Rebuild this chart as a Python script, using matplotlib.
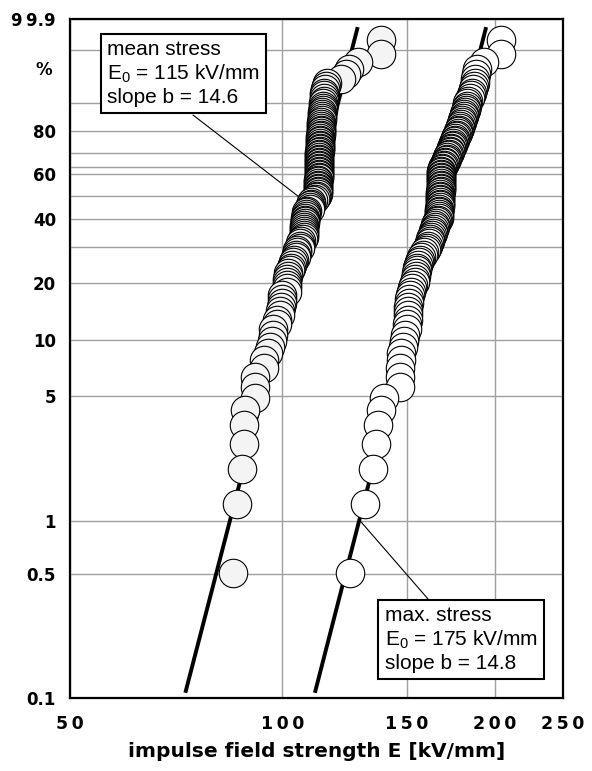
import numpy as np
import matplotlib
matplotlib.use("Agg")
import matplotlib.pyplot as plt

plt.rcParams['font.family'] = ['DejaVu Sans']
plt.rcParams['mathtext.fontset'] = 'custom'
plt.rcParams['mathtext.rm'] = 'Liberation Sans'

# breakdown strengths, sorted (kV/mm)
mean_E = [
    85.0, 86.2, 87.8, 88.3, 88.3, 88.4, 91.5, 91.5, 91.6, 94.1,
    94.2, 95.4, 96.1, 96.6, 97.0, 97.1, 98.3, 98.4, 99.2, 99.3,
    99.6, 99.8, 99.9, 100.0, 101.5, 101.6, 101.6, 101.7, 101.7, 101.8,
    102.0, 102.6, 102.8, 103.2, 103.6, 103.8, 104.6, 104.7, 104.8, 105.0,
    106.0, 106.0, 106.1, 106.2, 107.0, 107.2, 107.3, 107.3, 107.4, 107.4,
    107.5, 107.5, 107.6, 107.6, 107.7, 107.8, 107.9, 108.0, 108.2, 108.4,
    109.3, 109.5, 109.6, 109.7, 109.8, 110.5, 111.3, 111.5, 112.0, 112.3,
    112.3, 112.3, 112.4, 112.4, 112.4, 112.5, 112.5, 112.5, 112.5, 112.6,
    112.6, 112.6, 112.6, 112.7, 112.7, 112.7, 112.7, 112.7, 112.8, 112.8,
    112.8, 112.8, 112.8, 112.9, 112.9, 112.9, 112.9, 113.0, 113.0, 113.0,
    113.0, 113.1, 113.1, 113.1, 113.2, 113.2, 113.2, 113.3, 113.3, 113.4,
    113.4, 113.5, 113.5, 113.6, 113.6, 113.7, 113.8, 113.8, 113.9, 114.0,
    114.1, 114.2, 114.3, 114.3, 114.4, 114.4, 114.5, 114.6, 114.8, 115.2,
    115.8, 121.0, 123.0, 124.3, 128.0, 138.0, 138.0,
]
max_E = [
    124.7, 131.0, 134.3, 135.8, 136.6, 138.0, 139.3, 146.9, 146.9, 147.0,
    147.1, 147.3, 148.5, 149.0, 149.3, 150.0, 150.4, 150.6, 150.7, 150.8,
    150.9, 151.0, 151.2, 151.5, 152.4, 152.6, 153.0, 154.0, 154.3, 154.5,
    154.8, 155.0, 155.4, 155.8, 156.2, 156.8, 157.4, 158.2, 158.8, 159.6,
    160.2, 160.8, 161.4, 161.8, 162.2, 162.6, 163.0, 163.4, 163.8, 164.1,
    164.4, 164.7, 165.2, 165.6, 166.0, 166.6, 166.7, 166.8, 166.9, 167.0,
    167.0, 167.1, 167.2, 167.2, 167.3, 167.3, 167.4, 167.4, 167.5, 167.5,
    167.5, 167.6, 167.6, 167.6, 167.7, 167.7, 167.7, 167.8, 167.8, 167.8,
    167.9, 167.9, 168.0, 168.0, 168.1, 168.2, 168.5, 169.0, 169.4, 169.8,
    170.2, 170.6, 171.0, 171.4, 171.8, 172.2, 172.6, 173.0, 173.3, 173.6,
    174.0, 174.4, 174.8, 175.2, 175.6, 176.0, 176.4, 176.8, 177.2, 177.6,
    178.0, 178.4, 178.8, 179.2, 179.6, 180.0, 180.4, 180.8, 181.2, 181.6,
    182.0, 182.3, 182.6, 183.0, 183.6, 184.3, 185.0, 185.8, 186.5, 187.2,
    187.6, 187.8, 188.0, 189.0, 193.0, 204.0, 204.0,
]

# fitted Weibull lines as drawn (scale E0, shape b)
fit_E0 = [113.6, 172.9]
fit_b = [15.4, 15.5]
fit_F_range = [0.107, 99.8]

box_texts = [
    ["mean stress", r"E$_\mathregular{0}$ = 115 kV/mm", "slope b = 14.6"],
    ["max. stress", r"E$_\mathregular{0}$ = 175 kV/mm", "slope b = 14.8"],
]
leader_targets = [(106.0, 49.0), (128.9, 1.0)]

x_ticks = [50, 100, 150, 200, 250]
y_ticks = [0.1, 0.5, 1, 5, 10, 20, 40, 60, 80, 99.9]
y_grid_extra = [30, 50, 63.2, 70, 90, 99]
xlabel = "impulse field strength E [kV/mm]"


def weib(p):
    p = np.clip(np.asarray(p, dtype=float), 1e-6, 100 - 1e-6)
    return np.log(-np.log(1 - p / 100.0))


def weib_inv(w):
    return 100.0 * (1 - np.exp(-np.exp(w)))


def median_ranks(n):
    i = np.arange(1, n + 1)
    return (i - 0.3) / (n + 0.4) * 100.0


fig = plt.figure(figsize=(5.92, 7.71), dpi=100)
ax = fig.add_axes([70/592, 73/771, 493/592, 679/771])

ax.set_xscale('log')
ax.set_yscale('function', functions=(weib, weib_inv))
ax.set_xlim(50, 250)
ax.set_ylim(0.1, 99.9)

gridc = '#a0a0a0'
ax.set_xticks(x_ticks)
ax.set_xticklabels(['\u2009'.join(str(t)) for t in x_ticks])
ax.xaxis.set_minor_locator(matplotlib.ticker.NullLocator())
ax.set_yticks(y_ticks)
ax.set_yticklabels(['9\u20099.9' if t == 99.9 else ('%g' % t) for t in y_ticks])
ax.set_yticks(y_grid_extra, minor=True)
ax.tick_params(axis='both', which='both', length=0)
ax.tick_params(axis='x', pad=12, labelsize=12.5)
ax.tick_params(axis='y', pad=10, labelsize=12)
for lab in ax.get_xticklabels() + ax.get_yticklabels():
    lab.set_fontweight('bold')
ax.grid(True, which='both', color=gridc, lw=1.0, zorder=0)
ax.set_axisbelow(True)
for s in ax.spines.values():
    s.set_linewidth(1.6)
    s.set_zorder(5)

ax.text(-0.053, 0.925, '%', transform=ax.transAxes, ha='center', va='center',
        fontsize=12, fontweight='bold')
ax.set_xlabel(xlabel, fontsize=14.5, fontweight='bold', labelpad=7)

# fitted lines
for e0, b in zip(fit_E0, fit_b):
    F = np.array(fit_F_range)
    E = e0 * np.exp(weib(F) / b)
    ax.plot(E, F, color='black', lw=2.8, solid_capstyle='butt', zorder=2)

# data points, lowest rank on top
for data, fc in [(mean_E, '#f4f4f4'), (max_E, 'white')]:
    E = np.array(data)
    F = median_ranks(len(E))
    ax.plot(E[::-1], F[::-1], 'o', ms=20.5, mfc=fc, mec='black', mew=0.8,
            zorder=3)

# annotation boxes
box_pos = [(0.075, 0.969), (0.638, 0.1355)]
leader_from = [(0.2495, 0.8586), (0.7262, 0.1458)]
for lines, (bx, by), start, target in zip(box_texts, box_pos, leader_from,
                                          leader_targets):
    ax.annotate('', xy=target, xycoords='data', xytext=start,
                textcoords='axes fraction',
                arrowprops=dict(arrowstyle='-', lw=0.8, color='black',
                                shrinkA=0, shrinkB=0), zorder=2.5)
    ax.text(bx, by, '\n'.join(lines), transform=ax.transAxes, ha='left',
            va='top', fontsize=15, family='Liberation Sans', linespacing=1.2,
            zorder=6,
            bbox=dict(boxstyle='square,pad=0.3', fc='white', ec='black',
                      lw=1.5))

plt.savefig('out.png', dpi=100)
